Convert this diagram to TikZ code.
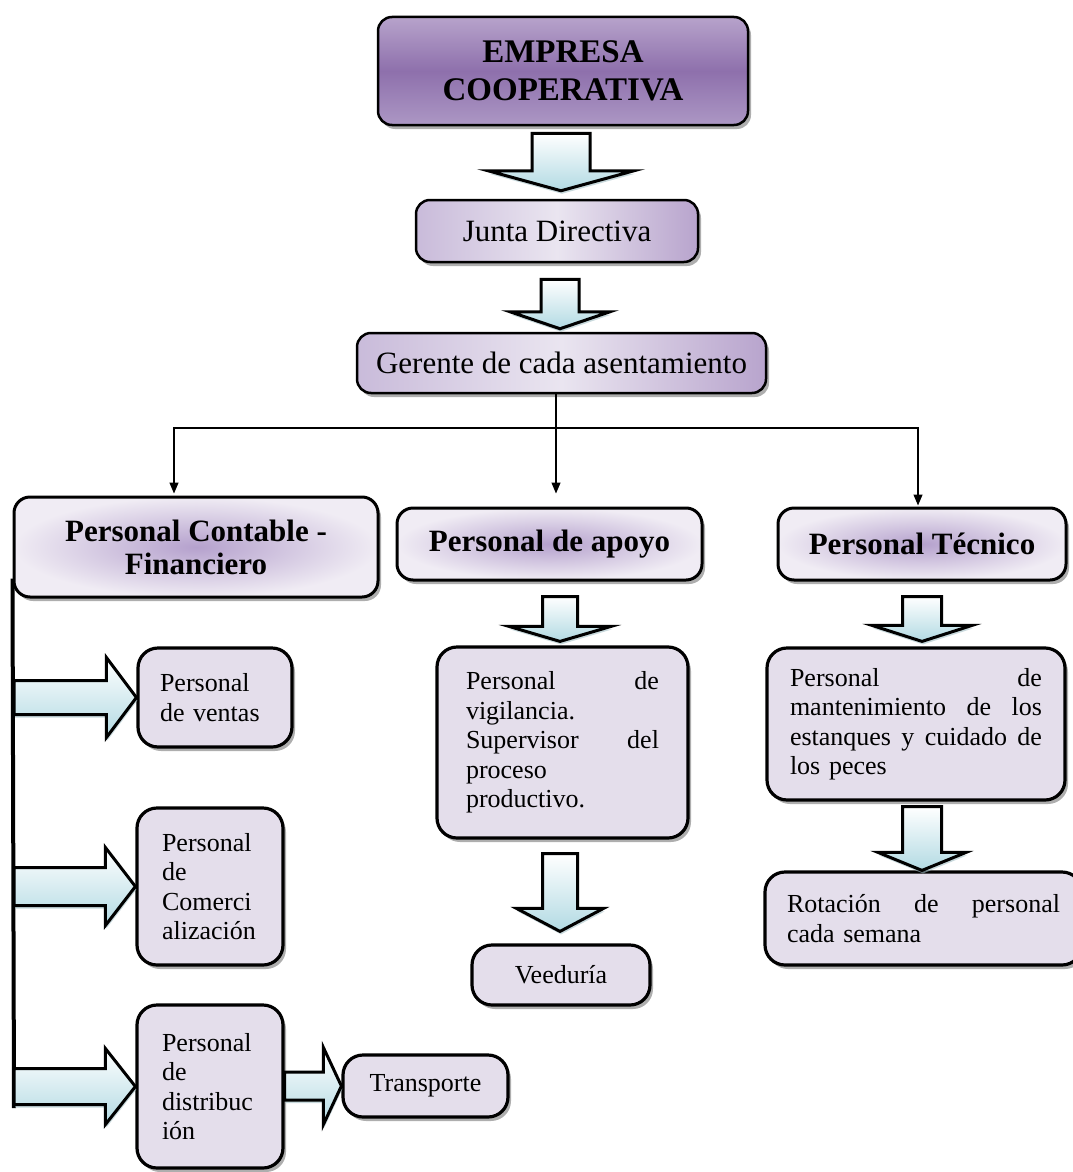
\documentclass[tikz,border=0pt]{standalone}
\usepackage{fontspec}
\setmainfont{Liberation Serif}
\usetikzlibrary{arrows.meta,shadows,calc}
\definecolor{empA}{HTML}{B7A3CB}
\definecolor{empB}{HTML}{8E70AC}
\definecolor{empC}{HTML}{AC97C4}
\definecolor{jL}{HTML}{C9BBDA}
\definecolor{jM}{HTML}{EAE5F0}
\definecolor{jR}{HTML}{B8A4CD}
\definecolor{hdIn}{HTML}{B5A1CD}
\definecolor{hdOut}{HTML}{F0ECF4}
\definecolor{boxFill}{HTML}{E4DEEB}
\definecolor{arrCyan}{HTML}{B2DAE3}
\newcommand\fEmp{\fontsize{33}{38}\selectfont\bfseries}
\newcommand\fTop{\fontsize{31}{34}\selectfont}
\newcommand\fHead{\fontsize{31}{33}\selectfont\bfseries}
\newcommand\fSmall{\fontsize{26}{29.5}\selectfont}
% down block arrow: from, to, x, shaft half, head half, head length, top gap, tip gap
\newcommand\blkdown[8]{%
 \path[blockarrow] let \p1=(#1.south), \p2=(#2.north) in
  ({#3pt-#4pt},\y1-#7pt) -- ({#3pt+#4pt},\y1-#7pt) -- ({#3pt+#4pt},\y2+#8pt+#6pt)
  -- ({#3pt+#5pt},\y2+#8pt+#6pt) -- (#3pt,\y2+#8pt) -- ({#3pt-#5pt},\y2+#8pt+#6pt)
  -- ({#3pt-#4pt},\y2+#8pt+#6pt) -- cycle;}
% right block arrow: source point, target node, shaft half, head half, head length, tip gap
\newcommand\blkright[6]{%
 \path[blockarrow] let \p1=(#1), \p2=(#2.west) in
  (\x1,\y2+#3pt) -- (\x2-#6pt-#5pt,\y2+#3pt) -- (\x2-#6pt-#5pt,\y2+#4pt) -- (\x2-#6pt,\y2)
  -- (\x2-#6pt-#5pt,\y2-#4pt) -- (\x2-#6pt-#5pt,\y2-#3pt) -- (\x1,\y2-#3pt) -- cycle;}
\tikzset{
 shd/.style={drop shadow={shadow xshift=3pt,shadow yshift=-4pt,fill=black!45,opacity=0.7}},
 topbox/.style={draw, line width=2.5pt, rounded corners=14pt, shd, align=center, inner sep=0pt, text=black},
 headbox/.style={draw, line width=3pt, rounded corners=16pt, shd, inner color=hdIn, outer color=hdOut, font=\fHead, align=center, inner sep=0pt},
 smallbox/.style={draw, line width=3.2pt, rounded corners=20pt, shd, fill=boxFill, font=\fSmall, align=left, inner sep=0pt},
 blockarrow/.style={draw, line width=3pt, line join=miter, top color=white, bottom color=arrCyan,
   drop shadow={shadow xshift=1pt,shadow yshift=-3pt,fill=arrCyan!70!gray,opacity=0.6}},
 conn/.style={line width=1.3pt, -{Triangle[length=11pt,width=9pt]}},
}
\begin{document}
\begin{tikzpicture}[x=1pt,y=1pt]
\useasboundingbox (0,0) rectangle (1072,-1172);

% top boxes
\node[topbox, top color=empA, bottom color=empC, middle color=empB, minimum width=370pt, minimum height=108pt, font=\fEmp] (emp) at (563,-71) {EMPRESA\\COOPERATIVA};
\node[topbox, left color=jL, right color=jR, middle color=jM, minimum width=282pt, minimum height=62pt, font=\fTop] (junta) at (557,-231) {Junta Directiva};
\node[topbox, left color=jL, right color=jR, middle color=jM, minimum width=409pt, minimum height=60pt, font=\fTop] (ger) at (561.5,-363) {Gerente de cada asentamiento};

% header boxes
\node[headbox, minimum width=364pt, minimum height=100pt] (cont) at (196,-547) {Personal Contable -\\Financiero};
\node[headbox, minimum width=305pt, minimum height=72pt] (apoyo) at (549.5,-544) {Personal de apoyo};
\node[headbox, minimum width=288pt, minimum height=72pt] (tec) at (922,-544) {Personal Técnico};

% small boxes
\node[smallbox, minimum width=154pt, minimum height=99pt, text width=110pt] (ventas) at (215,-697.5) {Personal\\de ventas};
\node[smallbox, minimum width=146pt, minimum height=157pt, text width=96pt] (comer) at (210,-886.5) {Personal\\de\\Comerci\\alización};
\node[smallbox, minimum width=146pt, minimum height=163pt, text width=96pt] (distr) at (210,-1086.5) {Personal\\de\\distribuc\\ión};
\node[smallbox, minimum width=165pt, minimum height=62pt, align=center] (transp) at (425.5,-1086) {Transporte};
\node[smallbox, minimum width=251pt, minimum height=191pt, text width=193pt] (vig) at (562.5,-742.5) {Personal\hfill de\\vigilancia.\\Supervisor\hfill del\\proceso\\productivo.};
\node[smallbox, minimum width=178pt, minimum height=60pt, align=center] (veed) at (561,-975) {Veeduría};
\node[smallbox, minimum width=298pt, minimum height=152pt, text width=252pt] (mant) at (916,-724) {Personal\hfill de\\mantenimiento\hfill de\hfill los\\estanques\hfill y\hfill cuidado\hfill de\\los peces};
\node[smallbox, minimum width=317pt, minimum height=93pt, text width=273pt] (rot) at (923.5,-918.5) {Rotación\hfill de\hfill personal\\cada semana};

% thin connectors from Gerente
\coordinate (hub) at (556,-428);
\draw[line width=1.3pt] (hub |- ger.south) -- (hub);
\draw[conn, shorten >=13pt] (hub) -- (hub |- apoyo.north);
\draw[conn, shorten >=2pt] (hub) -| ([xshift=-22pt]cont.north);
\draw[conn, shorten >=1pt] (hub) -| ([xshift=-4pt]tec.north);

% trunk on the left
\coordinate (trunkend) at (14,-1108);
\draw[line width=4pt] ([yshift=20pt]cont.south west) -- (trunkend);

% down block arrows
\blkdown{emp}{junta}{561}{29}{73}{20}{7}{8}
\blkdown{junta}{ger}{560}{19}{50}{17}{16}{3}
\blkdown{apoyo}{vig}{560}{17.5}{51}{15}{15}{4}
\blkdown{vig}{veed}{560}{17.5}{43.5}{23}{14}{12}
\blkdown{tec}{mant}{922}{19.5}{50}{16}{15}{5}
\blkdown{mant}{rot}{922}{19.5}{44}{18}{5}{0}

% right block arrows
\blkright{trunkend |- ventas.west}{ventas}{17}{40}{30}{0}
\blkright{trunkend |- comer.west}{comer}{19}{39}{30}{0}
\blkright{trunkend |- distr.west}{distr}{18}{38}{30}{0}
\blkright{distr.east}{transp}{14}{38.5}{18}{0}
\end{tikzpicture}
\end{document}
